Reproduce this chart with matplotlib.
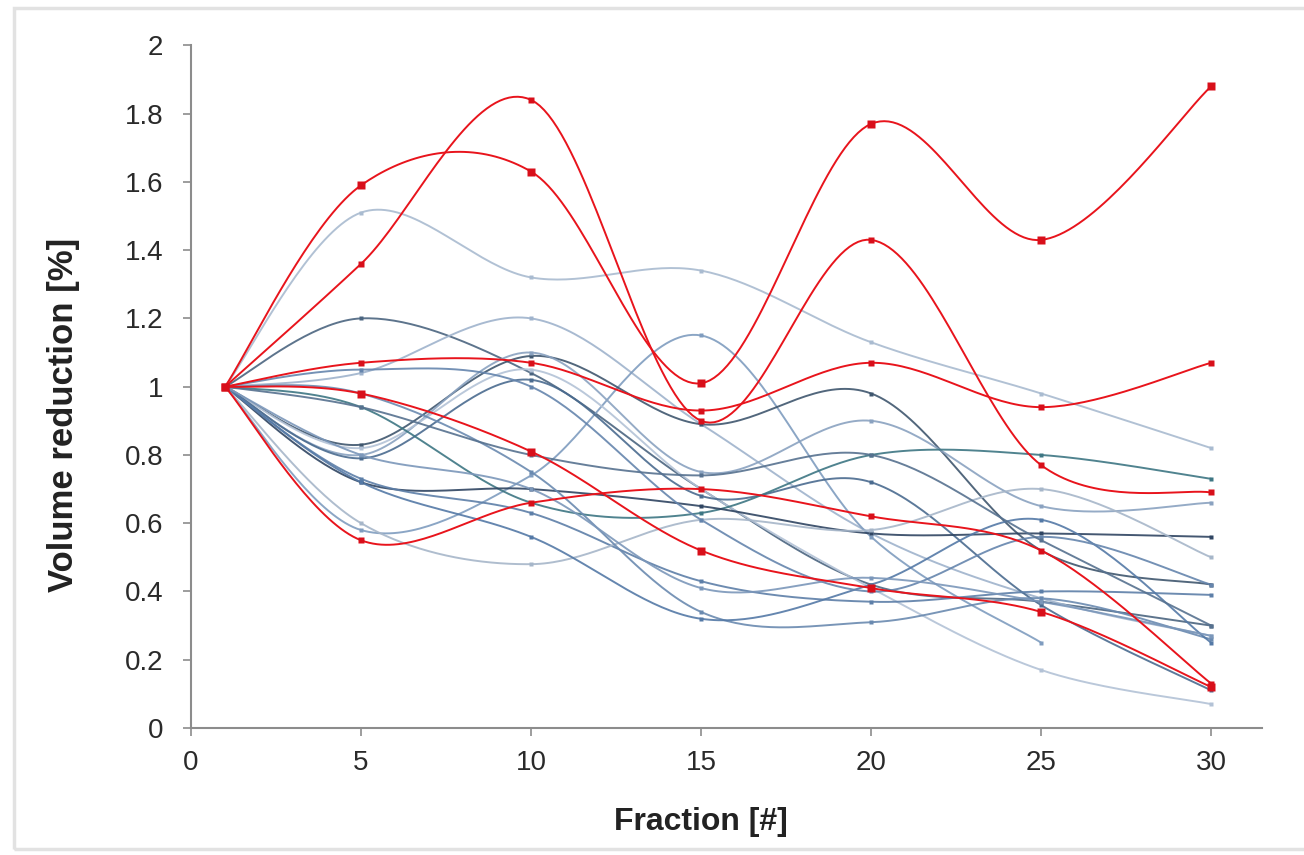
"""
Volume reduction per fraction, smoothed lines (Excel style).
"""

import matplotlib
matplotlib.use("Agg")
import matplotlib.pyplot as plt
import numpy as np
from matplotlib.patches import Rectangle

plt.rcParams["font.family"] = ["Liberation Sans", "DejaVu Sans"]

fractions = [1, 5, 10, 15, 20, 25, 30]

# red series
red_series = [
    [1.00, 1.59, 1.63, 1.01, 1.77, 1.43, 1.88],
    [1.00, 1.36, 1.84, 0.90, 1.43, 0.77, 0.69],
    [1.00, 1.07, 1.07, 0.93, 1.07, 0.94, 1.07],
    [1.00, 0.98, 0.81, 0.52, 0.41, 0.34, 0.12],
    [1.00, 0.55, 0.66, 0.70, 0.62, 0.52, 0.13],
]
red_big = [True, False, False, True, False]

# blue series
blue_series = [
    [1.00, 1.51, 1.32, 1.34, 1.13, 0.98, 0.82],
    [1.00, 1.20, 1.04, 0.70, 0.42, 0.37, 0.30],
    [1.00, 1.04, 1.20, 0.89, 0.57, 0.38, 0.27],
    [1.00, 0.58, 0.74, 1.15, 0.56, 0.25],
    [1.00, 0.83, 1.09, 0.89, 0.98, 0.52, 0.42],
    [1.00, 0.80, 1.10, 0.75, 0.90, 0.65, 0.66],
    [1.00, 0.82, 1.05, 0.70, 0.41, 0.17, 0.07],
    [1.00, 0.79, 1.02, 0.68, 0.72, 0.36, 0.11],
    [1.00, 0.94, 0.66, 0.63, 0.80, 0.80, 0.73],
    [1.00, 0.72, 0.70, 0.65, 0.57, 0.57, 0.56],
    [1.00, 0.73, 0.63, 0.43, 0.37, 0.40, 0.39],
    [1.00, 0.60, 0.48, 0.61, 0.58, 0.70, 0.50],
    [1.00, 0.98, 0.75, 0.34, 0.31, 0.38, 0.26],
    [1.00, 0.72, 0.56, 0.32, 0.42, 0.61, 0.25],
    [1.00, 1.05, 1.00, 0.61, 0.40, 0.56, 0.42],
    [1.00, 0.94, 0.80, 0.74, 0.80, 0.55, 0.30],
    [1.00, 0.80, 0.70, 0.41, 0.44, 0.37, 0.27],
]
blue_colors = [
    "#a9bbd0", "#4b6580", "#9fb3cc", "#7f9cbf", "#3f566e", "#8aa2c0",
    "#b3c2d6", "#4a6b8f", "#3d7683", "#2f4562", "#5d7fa8", "#a6b6c9",
    "#6a8ab0", "#5479a6", "#6585ad", "#56718f", "#7b97ba",
]

x_ticks = [0, 5, 10, 15, 20, 25, 30]
y_ticks = [0, 0.2, 0.4, 0.6, 0.8, 1, 1.2, 1.4, 1.6, 1.8, 2]
y_tick_labels = ["0", "0.2", "0.4", "0.6", "0.8", "1", "1.2", "1.4", "1.6", "1.8", "2"]


def smooth(xs, ys, n=40):
    # Catmull-Rom style bezier through the points
    x = np.asarray(xs, float)
    y = np.asarray(ys, float)
    px = np.concatenate([[x[0]], x, [x[-1]]])
    py = np.concatenate([[y[0]], y, [y[-1]]])
    t = np.linspace(0, 1, n)
    out_x, out_y = [], []
    for i in range(1, len(px) - 2):
        c1x = px[i] + (px[i + 1] - px[i - 1]) / 6
        c1y = py[i] + (py[i + 1] - py[i - 1]) / 6
        c2x = px[i + 1] - (px[i + 2] - px[i]) / 6
        c2y = py[i + 1] - (py[i + 2] - py[i]) / 6
        b0 = (1 - t) ** 3
        b1 = 3 * (1 - t) ** 2 * t
        b2 = 3 * (1 - t) * t ** 2
        b3 = t ** 3
        out_x.append(b0 * px[i] + b1 * c1x + b2 * c2x + b3 * px[i + 1])
        out_y.append(b0 * py[i] + b1 * c1y + b2 * c2y + b3 * py[i + 1])
    return np.concatenate(out_x), np.concatenate(out_y)


fig = plt.figure(figsize=(13.04, 8.55), dpi=100)
ax = fig.add_axes([0.1465, 0.1485, 0.8215, 0.7985])

# faint frame around the chart area
fig.patches.append(Rectangle((14 / 1304, 6 / 855), 1.0, 1 - 14 / 855,
                             transform=fig.transFigure, fill=False,
                             edgecolor="#e2e2e2", lw=2.5))

for values, color in zip(blue_series, blue_colors):
    xs = fractions[: len(values)]
    sx, sy = smooth(xs, values)
    ax.plot(sx, sy, color=color, lw=1.4, alpha=0.9, zorder=2)
    ax.plot(xs, values, "s", color=color, ms=3.5, mec="none", zorder=3)

red = "#e8141c"
for values, big in zip(red_series, red_big):
    xs = fractions[: len(values)]
    sx, sy = smooth(xs, values)
    ax.plot(sx, sy, color=red, lw=1.4, zorder=4)
    ax.plot(xs, values, "s", color="#d80f1a", ms=6 if big else 4, mec="none", zorder=5)

ax.set_xlim(0, 31.5)
ax.set_ylim(0, 2)
ax.set_xticks(x_ticks)
ax.set_yticks(y_ticks)
ax.set_yticklabels(y_tick_labels)

for side in ["top", "right"]:
    ax.spines[side].set_visible(False)
for side in ["left", "bottom"]:
    ax.spines[side].set_color("#8c8c8c")
    ax.spines[side].set_linewidth(1.5)

ax.tick_params(axis="both", colors="#8c8c8c", labelcolor="#2a2a2a",
               labelsize=20, length=6, width=1.2)
ax.tick_params(axis="y", pad=14)
ax.tick_params(axis="x", pad=10)

ax.set_xlabel("Fraction [#]", fontsize=23, fontweight="bold", color="#222222")
ax.set_ylabel("Volume reduction [%]", fontsize=25, fontweight="bold", color="#222222")
ax.xaxis.set_label_coords(0.476, -0.115)
ax.yaxis.set_label_coords(-0.104, 0.458)

fig.savefig("out.png", dpi=100)
